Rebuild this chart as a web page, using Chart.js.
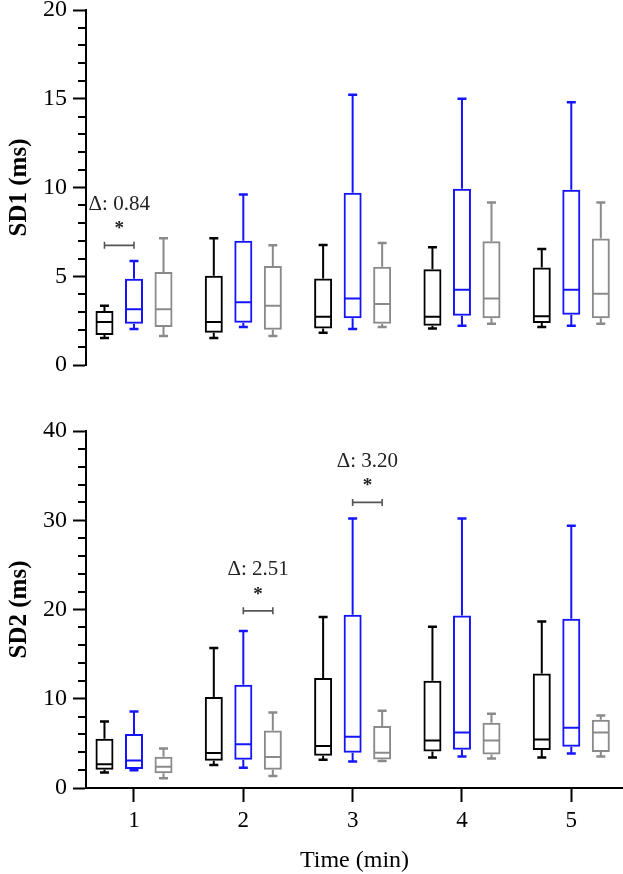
<!DOCTYPE html>
<html><head><meta charset="utf-8">
<script src="https://cdn.jsdelivr.net/npm/chart.js@4.4.1/dist/chart.umd.min.js"></script>
<style>
html,body{margin:0;padding:0;background:#fff;}
#wrap{position:relative;width:623px;height:874px;overflow:hidden;background:#fff;}
.c{position:absolute;left:0;width:623px;}
</style></head><body>
<div id="wrap">
<div class="c" style="top:0;height:400px"><canvas id="topChart"></canvas></div>
<div class="c" style="top:400px;height:474px"><canvas id="botChart"></canvas></div>
</div>
<script>
// ---------- data ----------
const timeLabels = ['1', '2', '3', '4', '5'];
const seriesNames = ['Group A', 'Group B', 'Group C'];
// five-number summaries per time point: [min, q1, median, q3, max]
const sd1Black = [[1.52,1.69,2.42,3.04,3.34],[1.52,1.82,2.42,5.03,7.14],[1.82,2.05,2.72,4.88,6.76],[2.05,2.21,2.72,5.39,6.63],[2.14,2.37,2.74,5.50,6.54]];
const sd1Blue  = [[2.03,2.33,3.14,4.86,5.86],[2.14,2.38,3.53,7.00,9.60],[2.03,2.63,3.74,9.71,15.23],[2.21,2.78,4.24,9.93,15.00],[2.21,2.83,4.24,9.88,14.80]];
const sd1Gray  = [[1.63,2.14,3.14,5.24,7.14],[1.63,1.99,3.34,5.58,6.74],[2.14,2.33,3.44,5.54,6.87],[2.33,2.63,3.74,6.97,9.16],[2.33,2.63,4.02,7.12,9.16]];
const sd2Black = [[1.75,2.05,2.65,5.52,7.46],[2.57,3.06,3.92,10.19,15.68],[3.17,3.62,4.70,12.32,19.15],[3.43,4.10,5.33,12.02,18.06],[3.43,4.25,5.44,12.83,18.66]];
const sd2Blue  = [[2.00,2.13,3.09,6.05,8.58],[2.27,3.17,4.89,11.57,17.60],[2.98,3.95,5.74,19.40,30.19],[3.54,4.29,6.23,19.33,30.19],[3.87,4.62,6.75,18.96,29.37]];
const sd2Gray  = [[1.08,1.64,2.38,3.50,4.43],[1.34,2.05,3.47,6.45,8.47],[3.02,3.20,3.95,6.94,8.66],[3.31,3.76,5.33,7.31,8.32],[3.54,4.03,6.23,7.65,8.13]];
const sd1TickLabels = [0, 5, 10, 15, 20];
const sd2TickLabels = [0, 10, 20, 30, 40];
// significance comparisons: time point, series indices compared, bracket value, delta text
const sd1Compare = [{time: 1, from: 0, to: 1, y: 6.74, delta: '0.84'}];
const sd2Compare = [{time: 2, from: 1, to: 2, y: 19.85, delta: '2.51'}, {time: 3, from: 1, to: 2, y: 32.0, delta: '3.20'}];

// ---------- styling ----------
const FONT = "'Liberation Serif', 'Times New Roman', serif";
const COLORS = ['#000000', '#1414ff', '#8a8a8a'];
Chart.defaults.font.family = FONT;
Chart.defaults.color = '#000';

function makeDatasets(list) {
  return list.map((stats, si) => ({
    label: seriesNames[si],
    data: timeLabels.map((t, i) => ({x: Number(t), y: [stats[i][1], stats[i][3]]})),
    stats: stats,
    backgroundColor: 'rgba(0,0,0,0)',
    borderColor: COLORS[si],
    borderWidth: 2,
    borderSkipped: false,
    categoryPercentage: 0.81,
    barPercentage: 0.61
  }));
}

const boxPlugin = {
  id: 'boxWhiskers',
  afterDatasetsDraw(chart) {
    const ctx = chart.ctx, ys = chart.scales.y;
    chart.data.datasets.forEach((ds, di) => {
      const meta = chart.getDatasetMeta(di);
      meta.data.forEach((el, i) => {
        const s = ds.stats[i];
        const x = el.x, hw = el.width / 2;
        const pMin = ys.getPixelForValue(s[0]), pQ1 = ys.getPixelForValue(s[1]);
        const pMed = ys.getPixelForValue(s[2]), pQ3 = ys.getPixelForValue(s[3]);
        const pMax = ys.getPixelForValue(s[4]);
        ctx.save();
        ctx.strokeStyle = ds.borderColor;
        ctx.lineWidth = 2;
        ctx.beginPath();
        ctx.moveTo(x - hw + 1, pMed); ctx.lineTo(x + hw - 1, pMed);
        ctx.moveTo(x, pQ3); ctx.lineTo(x, pMax);
        ctx.moveTo(x, pQ1); ctx.lineTo(x, pMin);
        ctx.stroke();
        ctx.lineWidth = 2.5;
        ctx.beginPath();
        ctx.moveTo(x - 4.5, pMax); ctx.lineTo(x + 4.5, pMax);
        ctx.moveTo(x - 4.5, pMin); ctx.lineTo(x + 4.5, pMin);
        ctx.stroke();
        ctx.restore();
      });
    });
  }
};

function minorTickPlugin(majors) {
  return {
    id: 'minorTicks',
    afterDraw(chart) {
      const ys = chart.scales.y, ctx = chart.ctx, left = chart.chartArea.left;
      ctx.save();
      ctx.strokeStyle = '#000';
      ctx.lineWidth = 2;
      ctx.beginPath();
      ys.ticks.forEach(t => {
        if (majors.includes(t.value)) return;
        const p = Math.round(ys.getPixelForValue(t.value));
        ctx.moveTo(left - 8, p); ctx.lineTo(left, p);
      });
      ctx.stroke();
      ctx.restore();
    }
  };
}

function comparePlugin(items) {
  return {
    id: 'compare',
    afterDraw(chart) {
      const ctx = chart.ctx, ys = chart.scales.y;
      items.forEach(c => {
        const a = chart.getDatasetMeta(c.from).data[c.time - 1];
        const b = chart.getDatasetMeta(c.to).data[c.time - 1];
        const x0 = a.x, x1 = b.x, yb = ys.getPixelForValue(c.y), xc = (x0 + x1) / 2;
        ctx.save();
        ctx.strokeStyle = '#555';
        ctx.lineWidth = 1.6;
        ctx.beginPath();
        ctx.moveTo(x0, yb); ctx.lineTo(x1, yb);
        ctx.moveTo(x0, yb - 3.5); ctx.lineTo(x0, yb + 3.5);
        ctx.moveTo(x1, yb - 3.5); ctx.lineTo(x1, yb + 3.5);
        ctx.stroke();
        ctx.fillStyle = '#222';
        ctx.textAlign = 'center';
        ctx.textBaseline = 'alphabetic';
        ctx.font = 'bold 19px ' + FONT;
        ctx.fillText('*', xc, yb - 20 + 9);
        ctx.textBaseline = 'middle';
        ctx.font = '21px ' + FONT;
        ctx.fillText('\u0394: ' + c.delta, xc, yb - 41);
        ctx.restore();
      });
    }
  };
}

function yAxis(max, step, majors, title) {
  return {
    type: 'linear', min: 0, max: max,
    ticks: {
      stepSize: step, autoSkip: false, padding: 6, color: '#000',
      font: {size: 24, family: FONT},
      callback: v => majors.includes(v) ? String(v) : ''
    },
    grid: {
      display: true, drawOnChartArea: false, drawTicks: true, tickLength: 13, tickWidth: 2,
      tickColor: c => (c.tick && majors.includes(c.tick.value)) ? '#000' : 'rgba(0,0,0,0)'
    },
    border: {display: true, color: '#000', width: 2},
    title: {display: true, text: title, color: '#000',
      font: {size: 25, weight: 'bold', family: FONT, lineHeight: 1}, padding: {top: 7, bottom: 0}},
    afterFit: s => { s.width = 86; s.paddingTop = 0; s.paddingBottom = 0; }
  };
}

function xAxis(show) {
  return {
    type: 'linear', min: 0.561, max: 5.473, offset: false, display: show,
    afterBuildTicks: s => { s.ticks = timeLabels.map(t => ({value: Number(t)})); },
    ticks: {autoSkip: false, padding: 5, color: '#000', font: {size: 23, family: FONT},
      callback: v => timeLabels[v - 1]},
    grid: {display: true, drawOnChartArea: false, drawTicks: true, tickLength: 14, tickWidth: 2,
      tickColor: '#000', offset: false},
    border: {display: true, color: '#000', width: 2},
    title: {display: true, text: 'Time (min)', color: '#000',
      font: {size: 24, family: FONT, lineHeight: 1}, padding: {top: 0, bottom: 1}},
    afterFit: s => { if (show) { s.height = 86; } else { s.height = 0; } s.paddingLeft = 0; s.paddingRight = 0; }
  };
}

function baseOptions(padding, xShow, yMax, yStep, majors, title) {
  return {
    responsive: true, maintainAspectRatio: false, animation: false,
    layout: {padding: padding},
    plugins: {legend: {display: false}, tooltip: {enabled: false}},
    scales: {x: xAxis(xShow), y: yAxis(yMax, yStep, majors, title)}
  };
}

new Chart(document.getElementById('topChart'), {
  type: 'bar',
  data: {datasets: makeDatasets([sd1Black, sd1Blue, sd1Gray])},
  options: baseOptions({top: 10, bottom: 35, left: 0, right: 0}, false, 20, 1, sd1TickLabels, 'SD1 (ms)'),
  plugins: [boxPlugin, minorTickPlugin(sd1TickLabels), comparePlugin(sd1Compare)]
});

new Chart(document.getElementById('botChart'), {
  type: 'bar',
  data: {datasets: makeDatasets([sd2Black, sd2Blue, sd2Gray])},
  options: baseOptions({top: 31, bottom: 0, left: 0, right: 0}, true, 40, 2, sd2TickLabels, 'SD2 (ms)'),
  plugins: [boxPlugin, minorTickPlugin(sd2TickLabels), comparePlugin(sd2Compare)]
});
</script>
</body></html>
